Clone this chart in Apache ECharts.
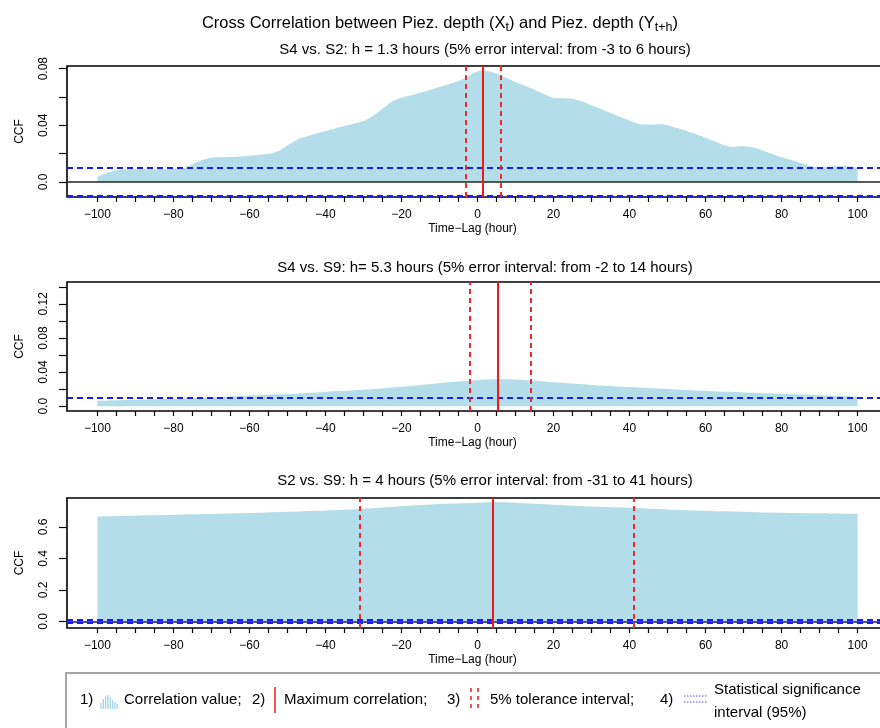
<!DOCTYPE html>
<html>
<head>
<meta charset="utf-8">
<script src="https://cdn.jsdelivr.net/npm/echarts@6/dist/echarts.min.js"></script>
<style>
  html, body { margin: 0; padding: 0; background: #fff; }
  #chart { width: 880px; height: 728px; }
</style>
</head>
<body>
<div id="chart"></div>
<script>
// lag (hours) / ccf values
const lags1 = [-100, -97, -95, -92, -90, -85, -80, -77, -75, -72, -70, -65, -60, -55, -52, -50, -47, -45, -40, -35, -30, -28, -25, -22, -20, -15, -10, -5, -3, -1, 1, 3, 6, 10, 15, 18, 20, 25, 28, 30, 35, 40, 43, 45, 48, 50, 55, 60, 65, 67, 70, 73, 75, 80, 85, 88, 90, 93, 96, 98, 100];
const ccf1 = [0.0035, 0.007, 0.0082, 0.009, 0.009, 0.009, 0.0092, 0.0101, 0.0125, 0.0158, 0.0172, 0.0176, 0.0186, 0.020, 0.0223, 0.0259, 0.0306, 0.0322, 0.036, 0.0395, 0.043, 0.0459, 0.0518, 0.0576, 0.0595, 0.063, 0.067, 0.0713, 0.0736, 0.077, 0.0788, 0.0782, 0.0753, 0.0706, 0.0652, 0.0616, 0.0595, 0.0588, 0.0565, 0.0541, 0.0487, 0.0435, 0.0407, 0.0405, 0.0407, 0.040, 0.036, 0.0313, 0.0259, 0.0247, 0.0252, 0.0242, 0.0223, 0.0176, 0.0134, 0.011, 0.0106, 0.011, 0.0113, 0.011, 0.0101];

const lags2 = [-100, -90, -80, -70, -60, -50, -40, -30, -20, -10, -5, 0, 5, 10, 20, 30, 40, 50, 60, 70, 80, 90, 100];
const ccf2 = [0.0062, 0.0075, 0.0088, 0.0103, 0.0125, 0.0143, 0.0168, 0.0192, 0.0228, 0.027, 0.029, 0.0305, 0.0315, 0.0312, 0.028, 0.025, 0.0225, 0.0202, 0.018, 0.016, 0.0145, 0.013, 0.0113];

const lags3 = [-100, -80, -60, -40, -31, -20, -10, 0, 4, 10, 20, 30, 41, 50, 60, 75, 90, 100];
const ccf3 = [0.667, 0.678, 0.689, 0.705, 0.714, 0.732, 0.746, 0.755, 0.757, 0.755, 0.742, 0.73, 0.721, 0.712, 0.703, 0.693, 0.687, 0.683];

// max correlation lag, 5% tolerance interval, significance level
const maxLag = [1.3, 5.3, 4];
const tolLow = [-3, -2, -31];
const tolHigh = [6, 14, 41];
const sigLevel = [0.0068, 0.007, 0.007];
const zeroLine = [true, false, true];

const subTitles = [
  "S4 vs. S2: h = 1.3 hours (5% error interval: from -3 to 6 hours)",
  "S4 vs. S9: h= 5.3 hours (5% error interval: from -2 to 14 hours)",
  "S2 vs. S9: h = 4 hours (5% error interval: from -31 to 41 hours)"
];

// axis ticks
const xTicks = [-100, -95, -90, -85, -80, -75, -70, -65, -60, -55, -50, -45, -40, -35, -30, -25, -20, -15, -10, -5, 0, 5, 10, 15, 20, 25, 30, 35, 40, 45, 50, 55, 60, 65, 70, 75, 80, 85, 90, 95, 100];
const xLabels = [-100, -80, -60, -40, -20, 0, 20, 40, 60, 80, 100];
const yTicks = [
  [0, 0.02, 0.04, 0.06, 0.08],
  [0, 0.02, 0.04, 0.06, 0.08, 0.1, 0.12, 0.14],
  [0, 0.2, 0.4, 0.6]
];
const yLabels = [
  [0, 0.04, 0.08],
  [0, 0.04, 0.08, 0.12],
  [0, 0.2, 0.4, 0.6]
];
const yMin = [-0.0106, -0.0056, -0.042];
const yMax = [0.0819, 0.1456, 0.7845];

const FONT = "'Liberation Sans', Arial, Helvetica, sans-serif";
const gridTop = [66, 282, 498];
const gridHeight = [131, 129, 130];
const subTitleY = [50, 268, 481];

const panels = [
  { lags: lags1, ccf: ccf1 },
  { lags: lags2, ccf: ccf2 },
  { lags: lags3, ccf: ccf3 }
];

let grid = [], xAxis = [], yAxis = [], series = [], graphic = [];

panels.forEach((p, i) => {
  grid.push({
    left: 67,
    top: gridTop[i],
    width: 821,
    height: gridHeight[i],
    outerBoundsMode: "none",
    containLabel: false,
    show: true,
    borderColor: "#000",
    borderWidth: 1.6,
    backgroundColor: "transparent"
  });
  xAxis.push({
    type: "value",
    gridIndex: i,
    min: -108,
    max: 108,
    name: "Time\u2212Lag (hour)",
    nameLocation: "middle",
    nameGap: 26,
    nameTextStyle: { color: "#000", fontSize: 12, fontFamily: FONT, padding: [0, 10, 0, 0] },
    axisLine: { show: false, onZero: false },
    axisTick: { show: true, inside: false, length: 5, customValues: xTicks, lineStyle: { color: "#000", width: 1.2 } },
    axisLabel: {
      customValues: xLabels,
      margin: 12,
      color: "#000",
      fontSize: 12,
      fontFamily: FONT,
      formatter: (v) => String(v).replace("-", "\u2212")
    },
    splitLine: { show: false }
  });
  yAxis.push({
    type: "value",
    gridIndex: i,
    min: yMin[i],
    max: yMax[i],
    name: "CCF",
    nameLocation: "middle",
    nameRotate: 90,
    nameGap: 41,
    nameTextStyle: { color: "#000", fontSize: 12, fontFamily: FONT },
    axisLine: { show: false, onZero: false },
    axisTick: { show: true, inside: false, length: 8, customValues: yTicks[i], lineStyle: { color: "#000", width: 1.2 } },
    axisLabel: {
      customValues: yLabels[i],
      rotate: 90,
      margin: 17,
      color: "#000",
      fontSize: 12,
      fontFamily: FONT,
      formatter: (v) => {
        if (i === 2) return v.toFixed(1);
        return v === 0 ? "0.0" : v.toFixed(2);
      }
    },
    splitLine: { show: false }
  });

  let marks = [];
  if (zeroLine[i]) {
    marks.push({ yAxis: 0, lineStyle: { color: "#222", width: 1.6, type: "solid" } });
  }
  [sigLevel[i], -sigLevel[i]].forEach((s) => {
    if (s > yMin[i] && s < yMax[i]) {
      marks.push({ yAxis: s, lineStyle: { color: "#1a1aff", width: 2, type: [6, 4] } });
    }
  });
  marks.push({ xAxis: maxLag[i], lineStyle: { color: "#f01818", width: 2, type: "solid" } });
  marks.push({ xAxis: tolLow[i], lineStyle: { color: "#f02a2a", width: 2, type: [5, 4] } });
  marks.push({ xAxis: tolHigh[i], lineStyle: { color: "#f02a2a", width: 2, type: [5, 4] } });

  series.push({
    type: "line",
    xAxisIndex: i,
    yAxisIndex: i,
    data: p.lags.map((l, k) => [l, p.ccf[k]]),
    smooth: 0.25,
    symbol: "none",
    silent: true,
    lineStyle: { width: 0 },
    areaStyle: { color: "#b3dde8", opacity: 1 },
    markLine: {
      silent: true,
      symbol: ["none", "none"],
      label: { show: false },
      animation: false,
      data: marks
    }
  });

  graphic.push({
    type: "text",
    style: {
      x: 485,
      y: subTitleY[i],
      text: subTitles[i],
      textAlign: "center",
      textVerticalAlign: "middle",
      fontSize: 15,
      fontFamily: FONT,
      fill: "#000"
    }
  });
});

// legend box at the bottom
const legY = 700;
graphic.push({
  type: "rect",
  shape: { x: 66, y: 673, width: 840, height: 90 },
  style: { fill: "none", stroke: "#888", lineWidth: 1.5 }
});
function legText(x, y, t) {
  return { type: "text", style: { x: x, y: y, text: t, textVerticalAlign: "middle", fontSize: 15, fontFamily: FONT, fill: "#000" } };
}
graphic.push(legText(80, legY, "1)"));
// small histogram icon
const iconH = [6, 10, 13, 14, 12, 9, 7, 5];
iconH.forEach((h, k) => {
  graphic.push({
    type: "line",
    shape: { x1: 101 + k * 2.3, y1: 709, x2: 101 + k * 2.3, y2: 709 - h },
    style: { stroke: "#a9d8e8", lineWidth: 1.4 }
  });
});
graphic.push(legText(124, legY, "Correlation value;"));
graphic.push(legText(252, legY, "2)"));
graphic.push({ type: "line", shape: { x1: 275, y1: 687, x2: 275, y2: 713 }, style: { stroke: "#f01818", lineWidth: 1.5 } });
graphic.push(legText(284, legY, "Maximum correlation;"));
graphic.push(legText(447, legY, "3)"));
[471, 478].forEach((x) => {
  graphic.push({ type: "line", shape: { x1: x, y1: 688, x2: x, y2: 712 }, style: { stroke: "#f01818", lineWidth: 1.5, lineDash: [4, 4] } });
});
graphic.push(legText(490, legY, "5% tolerance interval;"));
graphic.push(legText(660, legY, "4)"));
[696, 702].forEach((y) => {
  graphic.push({ type: "line", shape: { x1: 684, y1: y, x2: 707, y2: y }, style: { stroke: "#4a4aff", lineWidth: 1, lineDash: [1.5, 1.5] } });
});
graphic.push(legText(714, 690, "Statistical significance"));
graphic.push(legText(714, 713, "interval (95%)"));

let myChart = echarts.init(document.getElementById("chart"));
let option = {
  animation: false,
  backgroundColor: "#fff",
  title: {
    text: "Cross Correlation between Piez. depth (X{sub|t}) and Piez. depth (Y{sub|t+h})",
    left: "center",
    top: 8,
    textStyle: {
      color: "#000",
      fontSize: 16.5,
      fontWeight: "normal",
      fontFamily: FONT,
      rich: {
        sub: { fontSize: 12.5, fontFamily: FONT, color: "#000", padding: [8, 0, 0, 0] }
      }
    }
  },
  grid: grid,
  xAxis: xAxis,
  yAxis: yAxis,
  series: series,
  graphic: graphic
};
myChart.setOption(option);
window.addEventListener("resize", () => {
  myChart.resize();
});
</script>
</body>
</html>
